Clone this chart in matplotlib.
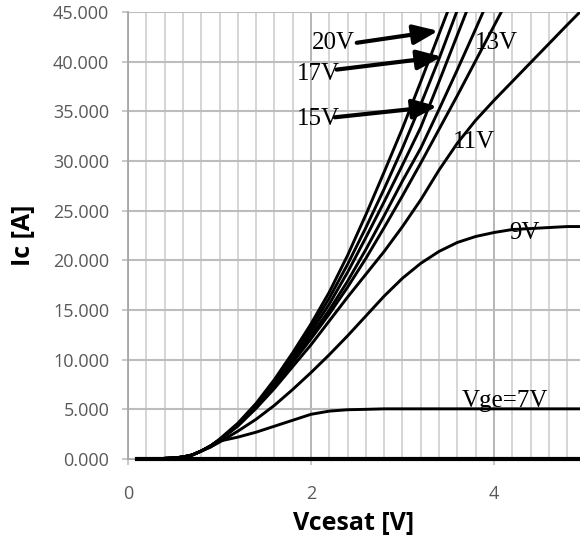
#!/usr/bin/env python3
"""
IGBT output characteristics: Ic vs Vcesat for several gate voltages.
"""

import numpy as np
import matplotlib
matplotlib.use('Agg')  # Non-interactive backend
import matplotlib.pyplot as plt
from matplotlib.ticker import MultipleLocator, FormatStrFormatter

# Collector-emitter voltage sample points [V]
vce = [0.1, 0.3, 0.5, 0.6, 0.7, 0.8, 0.9, 1.0, 1.2, 1.4, 1.6, 1.8, 2.0, 2.2,
       2.4, 2.6, 2.8, 3.0, 3.2, 3.4, 3.6, 3.8, 4.0, 4.2, 4.4, 4.6, 4.8, 4.95]

nan = np.nan
# Collector current [A] per gate voltage (nan = off the top of the scale)
ic_0v = [0.0] * len(vce)
ic_7v = [0.0, 0.02, 0.1, 0.2, 0.4, 0.8, 1.2, 1.8, 2.2, 2.7, 3.3, 3.9, 4.5, 4.82,
         4.96, 5.0, 5.05, 5.05, 5.05, 5.05, 5.05, 5.05, 5.05, 5.05, 5.05, 5.05, 5.05, 5.05]
ic_9v = [0.0, 0.02, 0.1, 0.2, 0.4, 0.8, 1.2, 1.7, 2.8, 4.0, 5.4, 7.0, 8.7, 10.5,
         12.4, 14.4, 16.4, 18.2, 19.7, 20.9, 21.8, 22.4, 22.8, 23.1, 23.2, 23.3, 23.4, 23.4]
ic_11v = [0.0, 0.02, 0.1, 0.2, 0.4, 0.8, 1.3, 1.9, 3.3, 5.1, 7.1, 9.3, 11.5, 13.9,
          16.3, 18.6, 20.9, 23.4, 26.1, 29.1, 31.8, 34.1, 36.1, 38.0, 39.9, 41.8, 43.7, 45.1]
ic_12v = [0.0, 0.02, 0.1, 0.2, 0.4, 0.8, 1.3, 1.9, 3.4, 5.2, 7.3, 9.7, 12.1, 14.6,
          17.3, 20.2, 23.3, 26.5, 29.8, 33.2, 36.6, 40.1, 43.6, 47.1, nan, nan, nan, nan]
ic_13v = [0.0, 0.02, 0.1, 0.2, 0.4, 0.8, 1.3, 1.9, 3.4, 5.3, 7.4, 9.9, 12.4, 15.0,
          17.9, 21.1, 24.5, 28.0, 31.3, 35.2, 39.2, 43.3, 47.5, nan, nan, nan, nan, nan]
ic_15v = [0.0, 0.02, 0.1, 0.2, 0.4, 0.8, 1.3, 1.9, 3.5, 5.4, 7.6, 10.1, 12.8, 15.6,
          18.8, 22.3, 25.9, 29.6, 33.4, 38.0, 42.7, 47.4, nan, nan, nan, nan, nan, nan]
ic_17v = [0.0, 0.02, 0.1, 0.2, 0.4, 0.8, 1.3, 1.9, 3.5, 5.5, 7.8, 10.4, 13.2, 16.2,
          19.6, 23.3, 27.2, 31.3, 35.7, 40.3, 45.2, nan, nan, nan, nan, nan, nan, nan]
ic_20v = [0.0, 0.02, 0.1, 0.2, 0.4, 0.8, 1.3, 2.0, 3.6, 5.6, 8.0, 10.7, 13.6, 16.8,
          20.5, 24.6, 28.9, 33.3, 38.0, 42.8, 47.6, nan, nan, nan, nan, nan, nan, nan]

# Curve labels: (text, x, y)
labels = [('20V', 2.01, 41.9), ('17V', 1.85, 38.8), ('15V', 1.85, 34.2),
          ('13V', 3.79, 41.9), ('11V', 3.55, 31.9), ('9V', 4.17, 22.8)]
# Arrows: (tail x, tail y, tip x, tip y)
arrows = [(2.50, 41.9, 3.39, 43.1), (2.28, 39.2, 3.43, 40.5), (2.26, 34.4, 3.38, 35.5)]

fig = plt.figure(figsize=(5.8, 5.4), dpi=100)
ax = fig.add_axes([0.2207, 0.15, 0.7793, 0.8278])

for ic in [ic_7v, ic_9v, ic_11v, ic_12v, ic_13v, ic_15v, ic_17v, ic_20v]:
    ax.plot(vce, ic, color='black', linewidth=2.1, solid_capstyle='round',
            solid_joinstyle='round', zorder=3)
ax.plot(vce, ic_0v, color='black', linewidth=3.0, zorder=3, clip_on=False)

serif = 'Liberation Serif'
for text, x, y in labels:
    ax.text(x, y, text, fontsize=18, family=serif, ha='left', va='center', zorder=4)
ax.text(3.65, 5.25, 'Vge=7V', fontsize=18, family=serif, ha='left', va='baseline', zorder=4)

for x0, y0, x1, y1 in arrows:
    ax.annotate('', xy=(x1, y1), xytext=(x0, y0),
                arrowprops=dict(arrowstyle='-|>,head_length=0.75,head_width=0.3',
                                mutation_scale=20, lw=3, color='black',
                                shrinkA=0, shrinkB=0), zorder=5)

ax.set_xlim(0, 4.94)
ax.set_ylim(0, 45)

ax.xaxis.set_major_locator(MultipleLocator(2))
ax.xaxis.set_minor_locator(MultipleLocator(0.2))
ax.yaxis.set_major_locator(MultipleLocator(5))
ax.yaxis.set_major_formatter(FormatStrFormatter('%.3f'))

for lbl in ax.get_xticklabels() + ax.get_yticklabels():
    lbl.set_fontfamily('Open Sans')
    lbl.set_fontsize(13)
ax.tick_params(axis='y', which='major', length=4.5, width=1.2, color='#bfbfbf',
               labelcolor='#595959', pad=9)
ax.tick_params(axis='x', which='major', length=4.5, width=1.2, color='#bfbfbf',
               labelcolor='#595959', pad=14)
ax.tick_params(axis='x', which='minor', length=0)

ax.grid(True, axis='y', which='major', color='#bdbdbd', linewidth=1.5)
ax.grid(True, axis='x', which='minor', color='#d2d2d2', linewidth=1.3)
ax.grid(True, axis='x', which='major', color='#b0b0b0', linewidth=1.3)
ax.set_axisbelow(True)

for side in ['top', 'right']:
    ax.spines[side].set_visible(False)
ax.spines['left'].set_color('#a6a6a6')
ax.spines['left'].set_linewidth(1.3)
ax.spines['bottom'].set_color('#a6a6a6')

label_font = dict(family='Open Sans', size=18, weight='bold')
ax.set_xlabel('Vcesat [V]', labelpad=6, **label_font)
ax.set_ylabel('Ic [A]', labelpad=12, **label_font)

fig.savefig('out.png', dpi=100)
plt.close(fig)
